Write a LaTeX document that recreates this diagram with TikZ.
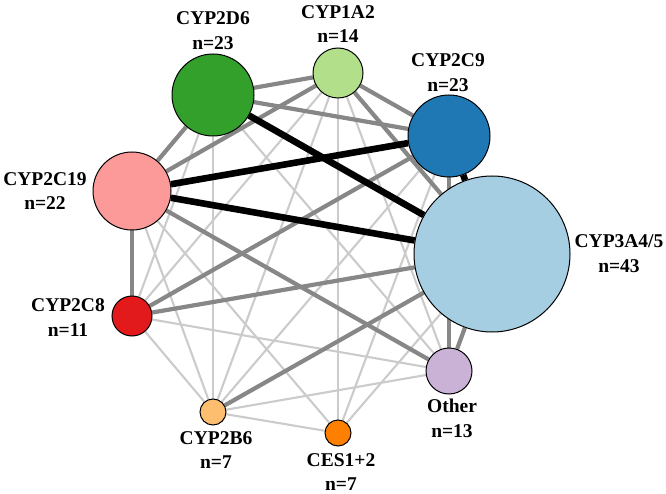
\documentclass[tikz,border=0pt]{standalone}
\usepackage{fontspec}
\setmainfont{Liberation Serif}
\usetikzlibrary{backgrounds}
\definecolor{cA}{HTML}{33A02C}
\definecolor{cB}{HTML}{B2DF8A}
\definecolor{cC}{HTML}{1F78B4}
\definecolor{cD}{HTML}{FB9A99}
\definecolor{cE}{HTML}{A6CEE3}
\definecolor{cF}{HTML}{E31A1C}
\definecolor{cG}{HTML}{FDBF6F}
\definecolor{cH}{HTML}{FF7F00}
\definecolor{cI}{HTML}{CAB2D6}
\definecolor{edgeDark}{HTML}{878787}
\definecolor{edgeLight}{HTML}{CBCBCB}
\begin{document}
\begin{tikzpicture}[x=1pt,y=-1pt,
  enz/.style={circle,draw=black,line width=1pt,inner sep=0pt},
  lab/.style={align=center,font=\fontsize{19.5}{24.5}\selectfont\bfseries,inner sep=0pt},
  wlight/.style={draw=edgeLight,line width=2.1pt},
  wdark/.style={draw=edgeDark,line width=4.2pt},
  wblack/.style={draw=black,line width=6.6pt}]
\useasboundingbox (0,0) rectangle (666,494);
\node[enz,fill=cA,minimum size=82pt] (A) at (213,95) {};
\node[enz,fill=cB,minimum size=50pt] (B) at (338,73) {};
\node[enz,fill=cC,minimum size=82pt] (C) at (449,136) {};
\node[enz,fill=cD,minimum size=78pt] (D) at (132,191) {};
\node[enz,fill=cE,minimum size=156pt] (E) at (492,254) {};
\node[enz,fill=cF,minimum size=40pt] (F) at (132,316) {};
\node[enz,fill=cG,minimum size=26pt] (G) at (213,412) {};
\node[enz,fill=cH,minimum size=26pt] (H) at (338,433) {};
\node[enz,fill=cI,minimum size=46pt] (I) at (449,371) {};
\node[lab] (lA) at (213,30.5) {CYP2D6\\n=23};
\node[lab] (lB) at (338,24) {CYP1A2\\n=14};
\node[lab] (lC) at (448,72.5) {CYP2C9\\n=23};
\node[lab] (lD) at (45,191) {CYP2C19\\n=22};
\node[lab] (lE) at (619,253.5) {CYP3A4/5\\n=43};
\node[lab] (lF) at (68,317.5) {CYP2C8\\n=11};
\node[lab] (lG) at (216,450) {CYP2B6\\n=7};
\node[lab] (lH) at (341,472) {CES1+2\\n=7};
\node[lab] (lI) at (452,418.5) {Other\\n=13};
\begin{pgfonlayer}{background}
% light edges
\foreach \a/\b in {A/F,A/G,A/I,B/F,B/G,B/H,B/I,C/G,C/H,D/G,D/H,E/H,F/G,F/I,G/H,G/I}
  \draw[wlight] (\a) -- (\b);
% dark grey edges
\foreach \a/\b in {A/B,A/C,A/D,B/C,B/D,B/E,C/F,C/I,D/F,D/I,E/F,E/G,E/I}
  \draw[wdark] (\a) -- (\b);
% black edges
\foreach \a/\b in {A/E,C/D,D/E,C/E}
  \draw[wblack] (\a) -- (\b);
\end{pgfonlayer}
\end{tikzpicture}
\end{document}
